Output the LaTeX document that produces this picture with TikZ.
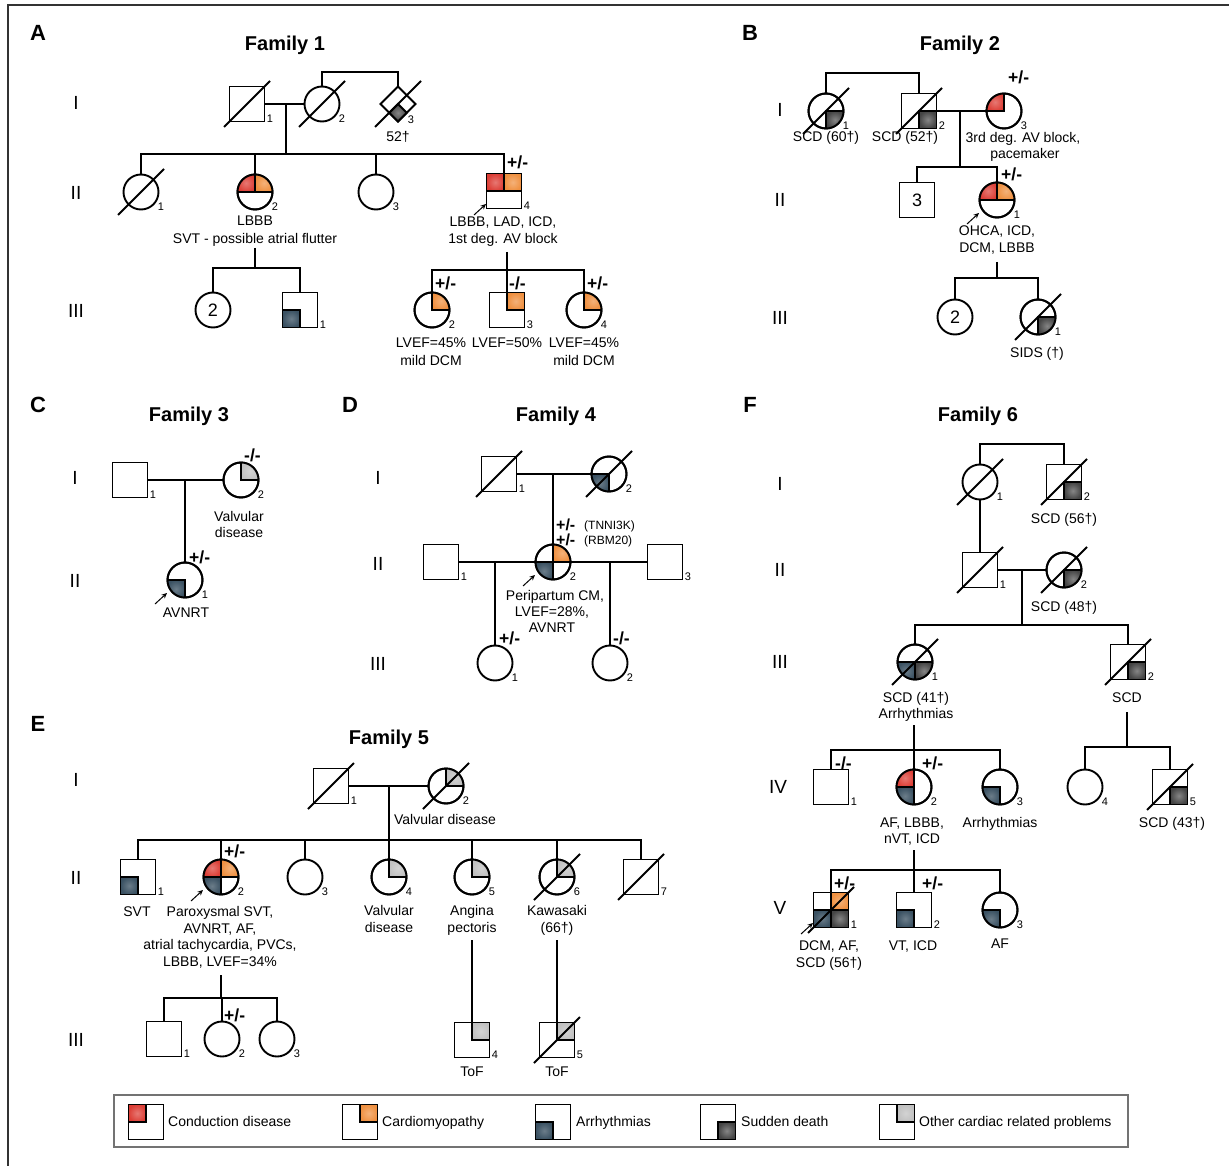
\documentclass[tikz,border=0pt]{standalone}
\usepackage{fontspec}
\setmainfont{Liberation Sans}
\usetikzlibrary{shapes.geometric,calc,arrows.meta}

\definecolor{cond}{HTML}{DC3E36}
\definecolor{card}{HTML}{EF9040}
\definecolor{arrh}{HTML}{3A5162}
\definecolor{sdth}{HTML}{444444}
\definecolor{oth}{HTML}{C0C0C0}

\tikzset{
  sym/.style={line width=1.9pt, draw=black},
  con/.style={line width=1.9pt, draw=black},
  msym/.style={sym, rectangle, minimum size=35pt, inner sep=0pt, outer sep=0pt, fill=white, font=\fontsize{18}{20}\selectfont},
  fsym/.style={sym, circle, minimum size=35pt, inner sep=0pt, outer sep=0pt, fill=white, font=\fontsize{18}{20}\selectfont},
  dsym/.style={sym, diamond, aspect=1, minimum width=35pt, minimum height=35pt, inner sep=0pt, outer sep=0pt, fill=white},
  num/.style={inner sep=0pt, font=\fontsize{11}{12}\selectfont},
  lab/.style={inner sep=0pt, font=\fontsize{14}{17}\selectfont, text height=10pt, text depth=0pt},
  gt/.style={inner sep=0pt, anchor=west, font=\bfseries\fontsize{17.5}{19}\selectfont, text height=12pt, text depth=0pt},
  gtm/.style={inner sep=0pt, anchor=west, font=\bfseries\fontsize{16}{18}\selectfont, text height=10.5pt, text depth=0pt},
  gts/.style={inner sep=0pt, anchor=west, font=\fontsize{12}{14}\selectfont, text height=8.5pt, text depth=0pt},
  gen/.style={inner sep=0pt, font=\fontsize{19}{21}\selectfont, text height=13.6pt, text depth=0pt},
  plet/.style={inner sep=0pt, font=\bfseries\fontsize{22}{24}\selectfont, text height=15.8pt, text depth=0pt},
  ttl/.style={inner sep=0pt, font=\bfseries\fontsize{20}{22}\selectfont, text height=14.4pt, text depth=0pt},
  legt/.style={inner sep=0pt, anchor=west, font=\fontsize{14}{17}\selectfont, text height=10pt, text depth=0pt},
  parr/.style={line width=1pt, -{Stealth[length=5.5pt,width=5pt]}},
  qcond/.style={inner color=cond!70!white, outer color=cond},
  qcard/.style={inner color=card!70!white, outer color=card},
  qarr/.style={inner color=arrh!75!white, outer color=arrh},
  qsd/.style={inner color=sdth!65!white, outer color=sdth},
  qoth/.style={inner color=oth!70!white, outer color=oth},
}

% symbols
\newcommand\pdM[4]{\node[msym] (#1) at (#2,#3) {};\node[num] (#1n) at ([shift={(23pt,-15pt)}]#1.center) {#4};}
\newcommand\pdF[4]{\node[fsym] (#1) at (#2,#3) {};\node[num] (#1n) at ([shift={(20pt,-15pt)}]#1.center) {#4};}
\newcommand\pdMc[4]{\node[msym] (#1) at (#2,#3) {#4};}
\newcommand\pdFc[4]{\node[fsym] (#1) at (#2,#3) {#4};}
\newcommand\pdDead[1]{\draw[sym] ([shift={(-23pt,-23pt)}]#1.center) -- ([shift={(23pt,23pt)}]#1.center);}
\newcommand\pdProb[1]{\draw[parr] ([shift={(-30pt,-24pt)}]#1.center) -- ([shift={(-18pt,-13pt)}]#1.center);}
\newcommand\pdRing[1]{\draw[sym] (#1.center) circle (17.5pt);}
% quadrants
\newcommand\pdsq[4]{\shadedraw[sym,#4] (#1.center) rectangle ([shift={(#2*17.5pt,#3*17.5pt)}]#1.center);}
\newcommand\pdcq[6]{\begin{scope}\clip (#1.center) circle (17.5pt);\shade[#4] (#1.center) rectangle ([shift={(#2*18pt,#3*18pt)}]#1.center);\end{scope}\draw[sym] (#1.#5) -- (#1.center) -- (#1.#6);}
\newcommand\STL[2]{\pdsq{#1}{-1}{1}{#2}}
\newcommand\STR[2]{\pdsq{#1}{1}{1}{#2}}
\newcommand\SBL[2]{\pdsq{#1}{-1}{-1}{#2}}
\newcommand\SBR[2]{\pdsq{#1}{1}{-1}{#2}}
\newcommand\CTL[2]{\pdcq{#1}{-1}{1}{#2}{north}{west}}
\newcommand\CTR[2]{\pdcq{#1}{1}{1}{#2}{north}{east}}
\newcommand\CBL[2]{\pdcq{#1}{-1}{-1}{#2}{south}{west}}
\newcommand\CBR[2]{\pdcq{#1}{1}{-1}{#2}{south}{east}}

\begin{document}
\begin{tikzpicture}[x=1pt,y=-1pt]
\useasboundingbox (0,0) rectangle (1229,1166);
\fill[white] (0,0) rectangle (1229,1166);
\draw[line width=1.8pt, draw=black!80] (8,1166) -- (8,5) -- (1229,5);

% panel letters and titles
\node[plet] (pA) at (38,33) {A};
\node[plet] (pB) at (750,33) {B};
\node[plet] (pC) at (38,405) {C};
\node[plet] (pD) at (350,405) {D};
\node[plet] (pE) at (38,724) {E};
\node[plet] (pF) at (750,405) {F};
\node[ttl] (t1) at (285,43) {Family 1};
\node[ttl] (t2) at (960,43) {Family 2};
\node[ttl] (t3) at (189,414) {Family 3};
\node[ttl] (t4) at (556,414) {Family 4};
\node[ttl] (t5) at (389,737) {Family 5};
\node[ttl] (t6) at (978,414) {Family 6};

% ================= Family 1
\node[gen] (g1a) at (76,103) {I};
\node[gen] (g1b) at (76,193) {II};
\node[gen] (g1c) at (76,311) {III};

\pdM{f1i1}{247}{104}{1}
\pdDead{f1i1}
\pdF{f1i2}{322}{104}{2}
\pdDead{f1i2}
\node[dsym] (f1i3) at (398,104) {};
\node[num] (f1i3n) at ([shift={(13pt,-16pt)}]f1i3.center) {3};
\shadedraw[sym,qsd] (f1i3.center) -- ($(f1i3.south)!0.5!(f1i3.east)$) -- (f1i3.south) -- ($(f1i3.south)!0.5!(f1i3.west)$) -- cycle;
\pdDead{f1i3}
\node[lab] (f1i3l) at (398,137) {52†};

\coordinate (f1m) at (286,104);
\coordinate (f1s) at (286,154);
\coordinate (f1t) at (360,72);
\draw[con] (f1i1.east) -- (f1i2.west);
\draw[con] (f1m) -- (f1s);
\draw[con] (f1i2.north) |- (f1t) -| (f1i3.north);

\pdF{f1ii1}{141}{192}{1}
\pdDead{f1ii1}
\pdF{f1ii2}{255}{192}{2}
\CTL{f1ii2}{qcond}
\CTR{f1ii2}{qcard}
\pdRing{f1ii2}
\pdF{f1ii3}{376}{192}{3}
\pdM{f1ii4}{504}{191}{4}
\STL{f1ii4}{qcond}
\STR{f1ii4}{qcard}
\pdProb{f1ii4}
\draw[con] (f1ii1.north) |- (f1s) -| (f1ii4.north);
\draw[con] (f1ii2.north) -- (f1ii2.north |- f1s);
\draw[con] (f1ii3.north) -- (f1ii3.north |- f1s);
\node[gt] (f1g4) at (507,163) {+/-};
\node[lab] (f1l2a) at (255,221) {LBBB};
\node[lab] (f1l2b) at (255,239) {SVT - possible atrial flutter};
\node[lab] (f1l4a) at (503,222) {LBBB, LAD, ICD,};
\node[lab] (f1l4b) at (503,239) {1st deg. AV block};

\coordinate (f1d2) at (255,248);
\coordinate (f1s2) at (255,268);
\draw[con] (f1d2) -- (f1s2);
\pdFc{f1iii1}{213}{310}{2}
\pdM{f1iii2}{300}{310}{1}
\SBL{f1iii2}{qarr}
\draw[con] (f1iii1.north) |- (f1s2) -| (f1iii2.north);

\coordinate (f1d4) at (507,252);
\coordinate (f1s4) at (507,270);
\pdF{f1iii3}{432}{310}{2}
\CTR{f1iii3}{qcard}
\pdRing{f1iii3}
\pdM{f1iii4}{507}{310}{3}
\STR{f1iii4}{qcard}
\pdF{f1iii5}{584}{310}{4}
\CTR{f1iii5}{qcard}
\pdRing{f1iii5}
\draw[con] (f1d4) -- (f1iii4.north);
\draw[con] (f1iii3.north) |- (f1s4) -| (f1iii5.north);
\node[gt] (f1g5) at (435,284) {+/-};
\node[gt] (f1g6) at (509,284) {-/-};
\node[gt] (f1g7) at (587,284) {+/-};
\node[lab] (f1l5a) at (431,343) {LVEF=45\%};
\node[lab] (f1l5b) at (431,360) {mild DCM};
\node[lab] (f1l6a) at (507,343) {LVEF=50\%};
\node[lab] (f1l7a) at (584,343) {LVEF=45\%};
\node[lab] (f1l7b) at (584,360) {mild DCM};

% ================= Family 2
\node[gen] (g2a) at (780,110) {I};
\node[gen] (g2b) at (780,200) {II};
\node[gen] (g2c) at (780,318) {III};

\pdF{f2i1}{826}{111}{1}
\CBR{f2i1}{qsd}
\pdRing{f2i1}
\pdDead{f2i1}
\pdM{f2i2}{919}{111}{2}
\SBR{f2i2}{qsd}
\pdDead{f2i2}
\pdF{f2i3}{1004}{111}{3}
\CTL{f2i3}{qcond}
\pdRing{f2i3}
\coordinate (f2t) at (870,73);
\coordinate (f2m) at (960,111);
\coordinate (f2s) at (960,167);
\draw[con] (f2i1.north) |- (f2t) -| (f2i2.north);
\draw[con] (f2i2.east) -- (f2i3.west);
\draw[con] (f2m) -- (f2s);
\node[gt] (f2g1) at (1008,78) {+/-};
\node[lab] (f2l1) at (826,137) {SCD (60†)};
\node[lab] (f2l2) at (905,137) {SCD (52†)};
\node[lab] (f2l3a) at (1023,138) {3rd deg. AV block,};
\node[lab] (f2l3b) at (1025,154) {pacemaker};

\pdMc{f2ii1}{917}{200}{3}
\pdF{f2ii2}{997}{200}{1}
\CTL{f2ii2}{qcond}
\CTR{f2ii2}{qcard}
\pdRing{f2ii2}
\pdProb{f2ii2}
\draw[con] (f2ii1.north) |- (f2s) -| (f2ii2.north);
\node[gt] (f2g2) at (1001,175) {+/-};
\node[lab] (f2l4a) at (997,231) {OHCA, ICD,};
\node[lab] (f2l4b) at (997,248) {DCM, LBBB};

\coordinate (f2d) at (997,262);
\coordinate (f2s2) at (997,278);
\draw[con] (f2d) -- (f2s2);
\pdFc{f2iii1}{955}{317}{2}
\pdF{f2iii2}{1038}{317}{1}
\CBR{f2iii2}{qsd}
\pdRing{f2iii2}
\pdDead{f2iii2}
\draw[con] (f2iii1.north) |- (f2s2) -| (f2iii2.north);
\node[lab] (f2l5) at (1037,352) {SIDS (†)};

% ================= Family 3
\node[gen] (g3a) at (75,478) {I};
\node[gen] (g3b) at (75,581) {II};
\pdM{f3i1}{130}{480}{1}
\pdF{f3i2}{241}{480}{2}
\CTR{f3i2}{qoth}
\pdRing{f3i2}
\pdF{f3ii1}{185}{580}{1}
\CBL{f3ii1}{qarr}
\pdRing{f3ii1}
\pdProb{f3ii1}
\coordinate (f3m) at (185,480);
\draw[con] (f3i1.east) -- (f3i2.west);
\draw[con] (f3m) -- (f3ii1.north);
\node[gt] (f3g1) at (244,455) {-/-};
\node[gt] (f3g2) at (189,557) {+/-};
\node[lab] (f3l1a) at (239,516) {Valvular};
\node[lab] (f3l1b) at (239,532) {disease};
\node[lab] (f3l2) at (186,612) {AVNRT};

% ================= Family 4
\node[gen] (g4a) at (378,478) {I};
\node[gen] (g4b) at (378,564) {II};
\node[gen] (g4c) at (378,664) {III};
\pdM{f4i1}{499}{474}{1}
\pdDead{f4i1}
\pdF{f4i2}{609}{474}{2}
\CBL{f4i2}{qarr}
\pdRing{f4i2}
\pdDead{f4i2}
\pdM{f4ii1}{441}{562}{1}
\pdF{f4ii2}{553}{562}{2}
\CTR{f4ii2}{qcard}
\CBL{f4ii2}{qarr}
\pdRing{f4ii2}
\pdProb{f4ii2}
\pdM{f4ii3}{665}{562}{3}
\pdF{f4iii1}{495}{663}{1}
\pdF{f4iii2}{610}{663}{2}
\coordinate (f4m) at (553,474);
\coordinate (f4m1) at (495,562);
\coordinate (f4m2) at (610,562);
\draw[con] (f4i1.east) -- (f4i2.west);
\draw[con] (f4m) -- (f4ii2.north);
\draw[con] (f4ii1.east) -- (f4ii2.west);
\draw[con] (f4ii2.east) -- (f4ii3.west);
\draw[con] (f4m1) -- (f4iii1.north);
\draw[con] (f4m2) -- (f4iii2.north);
\node[gtm] (f4g1) at (556,525) {+/-};
\node[gts] (f4g1t) at (584,525) {(TNNI3K)};
\node[gtm] (f4g2) at (556,540) {+/-};
\node[gts] (f4g2t) at (584,540) {(RBM20)};
\node[gt] (f4g3) at (499,638) {+/-};
\node[gt] (f4g4) at (613,638) {-/-};
\node[lab] (f4l1) at (555,595) {Peripartum CM,};
\node[lab] (f4l2) at (552,611) {LVEF=28\%,};
\node[lab] (f4l3) at (552,627) {AVNRT};

% ================= Family 5
\node[gen] (g5a) at (76,780) {I};
\node[gen] (g5b) at (76,878) {II};
\node[gen] (g5c) at (76,1040) {III};
\pdM{f5i1}{331}{786}{1}
\pdDead{f5i1}
\pdF{f5i2}{446}{786}{2}
\CTR{f5i2}{qoth}
\pdRing{f5i2}
\pdDead{f5i2}
\coordinate (f5m) at (389,786);
\coordinate (f5s) at (389,840);
\draw[con] (f5i1.east) -- (f5i2.west);
\draw[con] (f5m) -- (f5s);
\node[lab] (f5l0) at (445,819) {Valvular disease};

\pdM{f5ii1}{138}{877}{1}
\SBL{f5ii1}{qarr}
\pdF{f5ii2}{221}{877}{2}
\CTL{f5ii2}{qcond}
\CTR{f5ii2}{qcard}
\CBL{f5ii2}{qarr}
\pdRing{f5ii2}
\pdProb{f5ii2}
\pdF{f5ii3}{305}{877}{3}
\pdF{f5ii4}{389}{877}{4}
\CTR{f5ii4}{qoth}
\pdRing{f5ii4}
\pdF{f5ii5}{472}{877}{5}
\CTR{f5ii5}{qoth}
\pdRing{f5ii5}
\pdF{f5ii6}{557}{877}{6}
\CTR{f5ii6}{qoth}
\pdRing{f5ii6}
\pdDead{f5ii6}
\pdM{f5ii7}{641}{877}{7}
\pdDead{f5ii7}
\draw[con] (f5ii1.north) |- (f5s) -| (f5ii7.north);
\draw[con] (f5ii2.north) -- (f5ii2.north |- f5s);
\draw[con] (f5ii3.north) -- (f5ii3.north |- f5s);
\draw[con] (f5ii4.north) -- (f5ii4.north |- f5s);
\draw[con] (f5ii5.north) -- (f5ii5.north |- f5s);
\draw[con] (f5ii6.north) -- (f5ii6.north |- f5s);
\node[gt] (f5g1) at (224,851) {+/-};
\node[lab] (f5l1) at (137,911) {SVT};
\node[lab] (f5l2a) at (220,911) {Paroxysmal SVT,};
\node[lab] (f5l2b) at (220,928) {AVNRT, AF,};
\node[lab] (f5l2c) at (220,944) {atrial tachycardia, PVCs,};
\node[lab] (f5l2d) at (220,961) {LBBB, LVEF=34\%};
\node[lab] (f5l4a) at (389,910) {Valvular};
\node[lab] (f5l4b) at (389,927) {disease};
\node[lab] (f5l5a) at (472,910) {Angina};
\node[lab] (f5l5b) at (472,927) {pectoris};
\node[lab] (f5l6a) at (557,910) {Kawasaki};
\node[lab] (f5l6b) at (557,927) {(66†)};

\coordinate (f5d2) at (221,975);
\coordinate (f5s2) at (221,998);
\draw[con] (f5d2) -- (f5s2);
\pdM{f5iii1}{164}{1039}{1}
\pdF{f5iii2}{222}{1039}{2}
\pdF{f5iii3}{277}{1039}{3}
\draw[con] (f5iii1.north) |- (f5s2) -| (f5iii3.north);
\draw[con] (f5iii2.north) -- (f5iii2.north |- f5s2);
\node[gt] (f5g2) at (224,1015) {+/-};
\coordinate (f5d5) at (472,940);
\coordinate (f5d6) at (557,940);
\pdM{f5iii4}{472}{1040}{4}
\STR{f5iii4}{qoth}
\pdM{f5iii5}{557}{1040}{5}
\STR{f5iii5}{qoth}
\pdDead{f5iii5}
\draw[con] (f5d5) -- (f5iii4.north);
\draw[con] (f5d6) -- (f5iii5.north);
\node[lab] (f5l7) at (472,1071) {ToF};
\node[lab] (f5l8) at (557,1071) {ToF};

% ================= Family 6
\node[gen] (g6a) at (780,484) {I};
\node[gen] (g6b) at (780,570) {II};
\node[gen] (g6c) at (780,662) {III};
\node[gen] (g6d) at (778,787) {IV};
\node[gen] (g6e) at (780,908) {V};

\pdF{f6i1}{980}{482}{1}
\pdDead{f6i1}
\pdM{f6i2}{1064}{482}{2}
\SBR{f6i2}{qsd}
\pdDead{f6i2}
\coordinate (f6t) at (1022,444);
\draw[con] (f6i1.north) |- (f6t) -| (f6i2.north);
\node[lab] (f6l1) at (1064,518) {SCD (56†)};

\pdM{f6ii1}{980}{570}{1}
\pdDead{f6ii1}
\pdF{f6ii2}{1064}{570}{2}
\CBR{f6ii2}{qsd}
\pdRing{f6ii2}
\pdDead{f6ii2}
\draw[con] (f6i1.south) -- (f6ii1.north);
\coordinate (f6m) at (1022,570);
\coordinate (f6s) at (1022,625);
\draw[con] (f6ii1.east) -- (f6ii2.west);
\draw[con] (f6m) -- (f6s);
\node[lab] (f6l2) at (1064,606) {SCD (48†)};

\pdF{f6iii1}{915}{662}{1}
\CBL{f6iii1}{qarr}
\CBR{f6iii1}{qsd}
\pdRing{f6iii1}
\pdDead{f6iii1}
\pdM{f6iii2}{1128}{662}{2}
\SBR{f6iii2}{qsd}
\pdDead{f6iii2}
\draw[con] (f6iii1.north) |- (f6s) -| (f6iii2.north);
\node[lab] (f6l3a) at (916,697) {SCD (41†)};
\node[lab] (f6l3b) at (916,713) {Arrhythmias};
\node[lab] (f6l4) at (1127,697) {SCD};

\coordinate (f6d1) at (914,725);
\coordinate (f6s1) at (914,750);
\pdM{f6iv1}{831}{787}{1}
\pdF{f6iv2}{914}{787}{2}
\CTL{f6iv2}{qcond}
\CBL{f6iv2}{qarr}
\pdRing{f6iv2}
\pdF{f6iv3}{1000}{787}{3}
\CBL{f6iv3}{qarr}
\pdRing{f6iv3}
\draw[con] (f6d1) -- (f6iv2.north);
\draw[con] (f6iv1.north) |- (f6s1) -| (f6iv3.north);
\coordinate (f6d2) at (1127,712);
\coordinate (f6s2) at (1127,747);
\pdF{f6iv4}{1085}{787}{4}
\pdM{f6iv5}{1170}{787}{5}
\SBR{f6iv5}{qsd}
\pdDead{f6iv5}
\draw[con] (f6d2) -- (f6s2);
\draw[con] (f6iv4.north) |- (f6s2) -| (f6iv5.north);
\node[gt] (f6g1) at (835,763) {-/-};
\node[gt] (f6g2) at (922,763) {+/-};
\node[lab] (f6l5a) at (912,822) {AF, LBBB,};
\node[lab] (f6l5b) at (912,838) {nVT, ICD};
\node[lab] (f6l6) at (1000,822) {Arrhythmias};
\node[lab] (f6l7) at (1172,822) {SCD (43†)};

\coordinate (f6d3) at (914,850);
\coordinate (f6s3) at (914,870);
\pdM{f6v1}{831}{910}{1}
\STR{f6v1}{qcard}
\SBL{f6v1}{qarr}
\SBR{f6v1}{qsd}
\pdDead{f6v1}
\pdProb{f6v1}
\pdM{f6v2}{914}{910}{2}
\SBL{f6v2}{qarr}
\pdF{f6v3}{1000}{910}{3}
\CBL{f6v3}{qarr}
\pdRing{f6v3}
\draw[con] (f6d3) -- (f6v2.north);
\draw[con] (f6v1.north) |- (f6s3) -| (f6v3.north);
\node[gt] (f6g3) at (834,883) {+/-};
\node[gt] (f6g4) at (922,883) {+/-};
\node[lab] (f6l8a) at (829,945) {DCM, AF,};
\node[lab] (f6l8b) at (829,962) {SCD (56†)};
\node[lab] (f6l9) at (913,945) {VT, ICD};
\node[lab] (f6l10) at (1000,943) {AF};

% ================= Legend
\node[draw=black!55, line width=1.3pt, minimum width=1014pt, minimum height=52pt, inner sep=0pt, outer sep=0pt] (leg) at (621,1121) {};
\node[msym] (lg1) at (146,1122) {};
\STL{lg1}{qcond}
\node[legt] (lg1t) at (168,1121) {Conduction disease};
\node[msym] (lg2) at (360,1122) {};
\STR{lg2}{qcard}
\node[legt] (lg2t) at (382,1121) {Cardiomyopathy};
\node[msym] (lg3) at (553,1122) {};
\SBL{lg3}{qarr}
\node[legt] (lg3t) at (576,1121) {Arrhythmias};
\node[msym] (lg4) at (718,1122) {};
\SBR{lg4}{qsd}
\node[legt] (lg4t) at (741,1121) {Sudden death};
\node[msym] (lg5) at (897,1122) {};
\STR{lg5}{qoth}
\node[legt] (lg5t) at (919,1121) {Other cardiac related problems};
\end{tikzpicture}
\end{document}
